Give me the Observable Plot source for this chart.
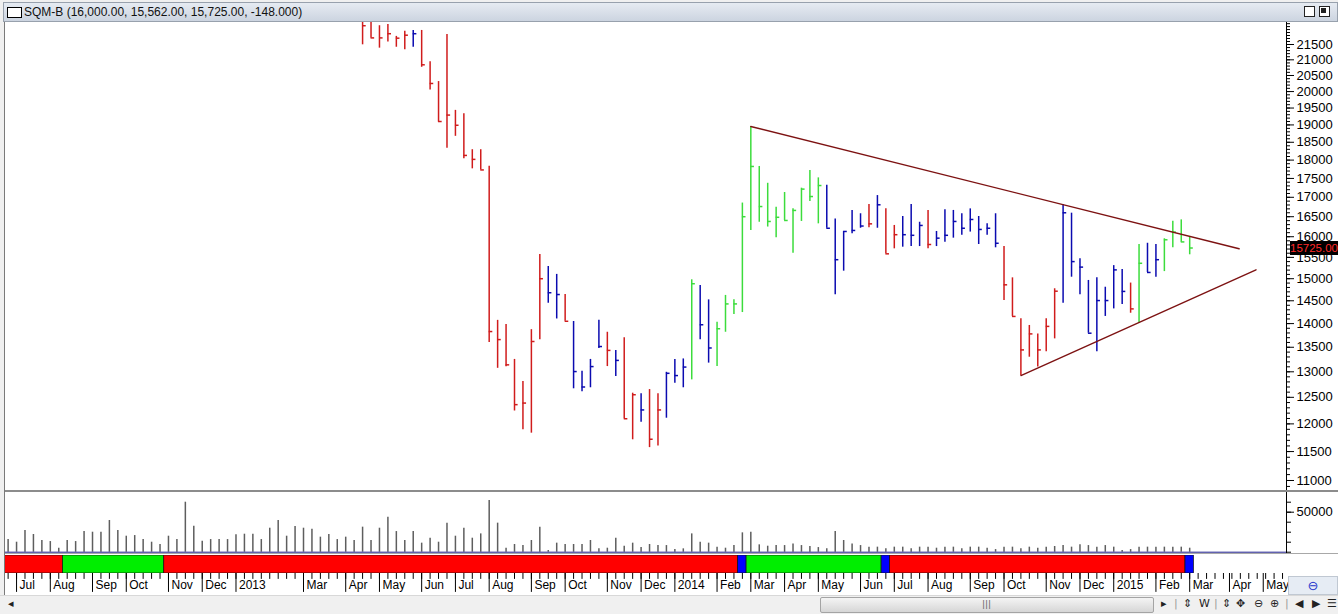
<!DOCTYPE html>
<html>
<head>
<meta charset="utf-8">
<script src="https://cdn.jsdelivr.net/npm/d3@7"></script>
<script src="https://cdn.jsdelivr.net/npm/@observablehq/plot@0.6"></script>
<style>
  html,body{margin:0;padding:0;}
  body{width:1338px;height:614px;position:relative;overflow:hidden;background:#f0f0f0;font-family:"Liberation Sans",Arial,sans-serif;}
  .a{position:absolute;}
  .a svg{display:block;}
  .ic{position:absolute;top:597px;font-family:"DejaVu Sans",sans-serif;font-size:11px;color:#222;}
</style>
</head>
<body>
<div class="a" style="left:4px;top:22px;width:1334px;height:573px;background:#fff;border-left:1px solid #7a7a7a;"></div>
<div class="a" style="left:3px;top:2px;width:1333px;height:18px;background:linear-gradient(#e6ebf2,#ccd4e0);border:1px solid #98a1ad;"></div>
<div class="a" style="left:7px;top:7px;width:13px;height:9px;background:#fff;border:1px solid #000;"></div>
<div class="a" id="title" style="left:24px;top:5px;font-size:12px;color:#111;white-space:nowrap;"></div>
<div class="a" style="left:1304px;top:6px;width:9px;height:9px;border:1px solid #222;background:#fff;"></div>
<div class="a" style="left:1319px;top:6px;width:9px;height:9px;border:1px solid #222;background:#fff;"></div>
<div class="a" style="left:1321px;top:8px;width:5px;height:5px;background:#222;"></div>
<div class="a" id="price" style="left:0;top:22px;"></div>
<div class="a" style="left:5px;top:490px;width:1333px;height:2px;background:#8c8c8c"></div>
<div class="a" id="volume" style="left:0;top:492px;"></div>
<div class="a" style="left:5px;top:553px;width:1333px;height:1px;background:#a8a8a8"></div>
<div class="a" id="strip" style="left:0;top:555px;"></div>
<div class="a" id="axis" style="left:0;top:573px;"></div>
<div class="a" style="left:1288px;top:576px;width:48px;height:17px;background:#e6ecf4;border:1px solid #c0c8d2;color:#2233cc;font-family:'DejaVu Sans';font-size:13px;text-align:center;line-height:17px;">⊖</div>
<div class="a" id="tag"></div>
<!-- scroll bar row -->
<div class="a" style="left:0;top:595px;width:1338px;height:19px;background:#f0f0f0;border-top:1px solid #d8d8d8;"></div>
<div class="ic" style="left:8px;">◂</div>
<div class="a" style="left:820px;top:597px;width:332px;height:14px;background:linear-gradient(#f4f4f4,#d6d6d6);border:1px solid #a4a4a4;border-radius:2px;"></div>
<div class="ic" style="left:982px;font-size:9px;top:599px;color:#666;">|||</div>
<div class="ic" style="left:1161px;">▸</div>
<div class="ic" style="left:1174px;color:#999">|</div>
<div class="ic" style="left:1183px;">⇕</div>
<div class="ic" style="left:1199px;">W</div>
<div class="ic" style="left:1214px;color:#999">|</div>
<div class="ic" style="left:1222px;">⇕</div>
<div class="ic" style="left:1236px;">✥</div>
<div class="ic" style="left:1254px;">⊖</div>
<div class="ic" style="left:1270px;">⊕</div>
<div class="ic" style="left:1285px;color:#999">|</div>
<div class="ic" style="left:1295px;">◀</div>
<div class="ic" style="left:1312px;">▶</div>
<div class="ic" style="left:1327px;">☰</div>
<script>
// ---------------- data ----------------
const symbol = "SQM-B";
const headerValues = ["16,000.00", "15,562.00", "15,725.00", "-148.000"];

// weekly bars, dated by the Friday of each week
const firstWeek = "2012-06-29";      // first weekly bar (volume / colour strip)
const firstPriceWeek = "2013-04-19"; // first bar visible inside the price range

const highs = [22450,22380,22130,22170,21770,21940,21970,21970,20940,20310,
  21830,19430,19330,18290,18290,17830,14070,13980,13250,12810,
  13870,15570,15285,15100,14640,14045,13010,13250,14070,13815,
  13435,13700,12580,12570,12650,12570,12990,13250,13260,14975,
  14845,14520,14030,14620,14520,16850,18955,17825,17370,16740,
  17125,16700,17240,17715,17515,17320,16445,16130,16660,16575,
  16810,17045,16700,16280,16505,16810,16360,16660,16130,16675,
  16660,16575,16700,16505,16320,16575,15760,15020,14105,13960,
  13780,14105,14770,16810,16590,15465,14960,15020,14805,15305,
  15215,14900,15810,15840,15810,15950,16385,16420,16000];
const lows = [21490,21720,21380,21580,21410,21330,21410,20760,20050,19080,
  18330,18670,18040,17760,17730,13600,13070,13100,12240,11890,
  11830,13655,14445,14100,14050,12665,12610,12685,13475,13105,
  12905,12095,11710,12030,11570,11600,12105,12775,12685,12840,
  13655,13175,13105,13815,14195,14240,16155,16360,16240,15975,
  16405,15600,16380,16890,16320,16210,14635,15175,16075,16210,
  16225,16210,15585,15705,15745,15760,15760,15705,15760,15865,
  15965,16035,16115,15810,16035,15730,14505,14155,12925,13295,
  13095,13405,13675,14445,15035,14635,13795,13405,14155,14320,
  14415,14225,14010,15145,15035,15165,15730,15865,15562];
const closes = [22130,21720,21720,21860,21710,21810,21860,20840,20250,19100,
  19290,18990,18130,18020,17730,13830,13660,13140,12360,12390,
  13620,15000,14680,14640,14050,13005,12700,13105,13515,13435,
  13230,12095,12550,12260,11720,12260,12970,12925,13095,14885,
  13975,13485,13890,14430,14430,16500,17825,16760,16380,16485,
  16405,16660,17215,17020,17310,16210,15445,16130,16155,16265,
  16320,16805,15585,16050,16050,16035,16280,15810,15965,16035,
  16380,16210,16430,16180,16210,15840,14860,14155,13445,13780,
  13445,13940,14715,16600,15400,15270,13795,14505,14505,15205,
  14710,14320,15360,15145,15445,15925,16115,15873,15725];
// r = red, g = green, b = blue; ten bars per group
const barColorGroups = ["rrrrrrbrrr","rrrrrrrrrr","rrbbrbbbbr","brrbrrbbbg","bbgggggggg",
  "gggggbbbbb","rbrrbbbrbb","bbbbbbrrrr","rrrbbbbbbb","brgbbgggg"];
const barColors = barColorGroups.join("").split("");

const volumes = [15800,12500,27100,22100,14600,13300,5000,14600,13300,25800,
  25000,25000,39600,27100,20000,20800,15800,12500,9600,20000,
  15800,62500,32500,13800,15800,15800,15800,21700,22500,22500,
  15800,30000,39600,20000,32100,30000,28800,18800,22100,15800,
  18800,14600,31300,14600,30000,43800,25800,14600,25800,11300,
  17500,12500,36300,20000,30000,17500,22900,64600,36300,5000,
  9600,8300,14600,31300,2100,11300,9600,9600,9600,14600,
  4200,5000,17500,7500,11300,5800,9600,8300,8300,
  3300,4200,22900,12500,11300,6300,5000,8300,24200,25000,
  9200,7500,8300,8300,10400,8300,7100,5800,4200,25800,
  14600,10400,8300,6300,6300,4200,6300,6300,4200,6300,
  6300,5000,6300,6300,4200,6300,6300,5000,3300,6300,
  6300,4200,6300,5000,6300,7100,8300,6300,9200,8300,
  6300,8300,6300,2100,3300,6300,6300,6300,6300,6300,
  6300,5000];

// trend state strip: colour and number of weeks of each run
const stripColors = ["red","green","red","blue","green","blue","red","blue"];
const stripWeeks  = [7, 12, 68, 1, 16, 1, 35, 1];

// triangle trend lines
const upperLine = [{date: "2014-03-07", value: 18955}, {date: "2015-04-16", value: 15706}];
const lowerLine = [{date: "2014-10-17", value: 12926}, {date: "2015-04-30", value: 15207}];

// axis ticks
const priceTicks = [11000,11500,12000,12500,13000,13500,14000,14500,15000,15500,16000,
  16500,17000,17500,18000,18500,19000,19500,20000,20500,21000,21500];
const volumeTicks = [0, 12500, 25000, 37500, 50000, 62500];
const volumeLabels = [50000];
const monthTickDates = ["2012-07-06","2012-08-03","2012-09-07","2012-10-05","2012-11-09","2012-12-07",
  "2013-01-04","2013-03-01","2013-04-05","2013-05-03","2013-06-07","2013-07-05","2013-08-02",
  "2013-09-06","2013-10-04","2013-11-08","2013-12-06","2014-01-03","2014-02-07","2014-03-07",
  "2014-04-04","2014-05-02","2014-06-06","2014-07-04","2014-08-01","2014-09-05","2014-10-03",
  "2014-11-07","2014-12-05","2015-01-02","2015-02-06","2015-03-06","2015-04-08","2015-05-06"];
const monthTickLabels = ["Jul","Aug","Sep","Oct","Nov","Dec","2013","Mar","Apr","May","Jun","Jul","Aug",
  "Sep","Oct","Nov","Dec","2014","Feb","Mar","Apr","May","Jun","Jul","Aug","Sep","Oct",
  "Nov","Dec","2015","Feb","Mar","Apr","May"];

// ---------------- build ----------------
const DAY = 864e5;
const parse = s => new Date(s + "T00:00:00Z");
const weekOf = (start, i) => new Date(+parse(start) + i * 7 * DAY);
const bars = highs.map((h, i) => ({date: weekOf(firstPriceWeek, i), high: h, low: lows[i], close: closes[i], c: barColors[i]}));
const vols = volumes.map((v, i) => ({date: weekOf(firstWeek, i), v}));
let run = 0;
const strip = stripColors.map((c, k) => {
  const s = run; run += stripWeeks[k];
  return {x1: new Date(+weekOf(firstWeek, s) - 3.5 * DAY), x2: new Date(+weekOf(firstWeek, run - 1) + 3.5 * DAY), c};
});
const allWeeks = d3.range(-1, volumes.length + 12).map(i => weekOf(firstWeek, i));
const up = upperLine.map(d => ({date: parse(d.date), value: d.value}));
const lo = lowerLine.map(d => ({date: parse(d.date), value: d.value}));

const xDomain = [new Date(Date.UTC(2012, 5, 26, 20)), new Date(Date.UTC(2015, 4, 25, 7))];
const W = 1338, ML = 5, MR = 52;
const colorMap = {r: "#d01c1c", g: "#3cdc3c", b: "#0b0bb0"};
const font = {background: "transparent", fontFamily: "'Liberation Sans', Arial, sans-serif", color: "#000"};

document.getElementById("title").textContent = `${symbol} (${headerValues.join(", ")})`;

const priceH = 468;
const price = Plot.plot({
  width: W, height: priceH, marginLeft: ML, marginRight: MR, marginTop: 0, marginBottom: 0,
  style: {...font, fontSize: "13px"},
  x: {type: "utc", domain: xDomain, axis: null},
  y: {type: "log", domain: [10832, 22240], axis: null},
  marks: [
    Plot.ruleX(bars, {x: "date", y1: "low", y2: "high", stroke: d => colorMap[d.c], strokeWidth: 1.5, clip: true}),
    Plot.ruleY(bars, {y: "close", x1: "date", x2: d => new Date(+d.date + 3 * DAY), stroke: d => colorMap[d.c], strokeWidth: 1.5, clip: true}),
    Plot.line(up, {x: "date", y: "value", stroke: "#7d1212", strokeWidth: 1.4}),
    Plot.line(lo, {x: "date", y: "value", stroke: "#7d1212", strokeWidth: 1.4}),
    Plot.axisY({anchor: "right", label: null, ticks: d3.range(10900, 22250, 100), tickSize: 3, tickFormat: () => "", stroke: "#000"}),
    Plot.axisY({anchor: "right", label: null, ticks: priceTicks, tickSize: 7, tickPadding: 3, tickFormat: d => String(d), fontSize: 13}),
    Plot.ruleX([xDomain[1]], {stroke: "#000"})
  ]
});
document.getElementById("price").appendChild(price);

// last price tag
const lastClose = closes[closes.length - 1];
const ty = 22 + price.scale("y").apply(lastClose);
const tag = document.getElementById("tag");
tag.textContent = lastClose.toFixed(2);
Object.assign(tag.style, {left: "1290px", top: (ty - 7) + "px", width: "48px", height: "14px", background: "#000", color: "#ff2a2a", fontSize: "11.5px", lineHeight: "14px", textAlign: "left", paddingLeft: "0px", overflow: "hidden", whiteSpace: "nowrap"});

const volume = Plot.plot({
  width: W, height: 61, marginLeft: ML, marginRight: MR, marginTop: 0, marginBottom: 0,
  style: {...font, fontSize: "13px"},
  x: {type: "utc", domain: xDomain, axis: null},
  y: {domain: [-1625, 74625], axis: null},
  marks: [
    Plot.ruleX(vols, {x: "date", y1: 0, y2: "v", stroke: "#5e5e5e", strokeWidth: 1.5}),
    Plot.ruleY([0], {stroke: "#1c1c8c", strokeWidth: 1}),
    Plot.axisY({anchor: "right", label: null, ticks: volumeTicks, tickSize: 4, tickFormat: () => "", stroke: "#000"}),
    Plot.axisY({anchor: "right", label: null, ticks: volumeLabels, tickSize: 7, tickPadding: 3, tickFormat: d => String(d), fontSize: 13}),
    Plot.ruleX([xDomain[1]], {stroke: "#000"})
  ]
});
document.getElementById("volume").appendChild(volume);

const stripPlot = Plot.plot({
  width: W, height: 18, marginLeft: ML, marginRight: MR, marginTop: 0, marginBottom: 0,
  style: font,
  x: {type: "utc", domain: xDomain, axis: null},
  marks: [
    Plot.rect(strip, {x1: "x1", x2: "x2", fill: d => ({red: "#ff0000", green: "#00ee00", blue: "#0000ff"})[d.c], stroke: "#111", strokeWidth: 0.7, clip: true})
  ]
});
document.getElementById("strip").appendChild(stripPlot);

const axisPlot = Plot.plot({
  width: W, height: 21, marginLeft: ML, marginRight: MR, marginTop: 0, marginBottom: 0,
  style: {...font, fontSize: "12px"},
  x: {type: "utc", domain: xDomain, axis: null},
  y: {domain: [0, 1], axis: null},
  marks: [
    Plot.ruleX(allWeeks, {x: d => d, y1: 0.72, y2: 1, stroke: "#000", clip: true}),
    Plot.ruleX(monthTickDates.map(parse), {x: d => d, y1: 0.1, y2: 1, stroke: "#000"}),
    Plot.text(monthTickDates.map(parse), {x: d => d, y: 0.45, text: (d, i) => monthTickLabels[i], textAnchor: "start", dx: 3, fill: "#000"})
  ]
});
document.getElementById("axis").appendChild(axisPlot);
</script>
</body>
</html>
